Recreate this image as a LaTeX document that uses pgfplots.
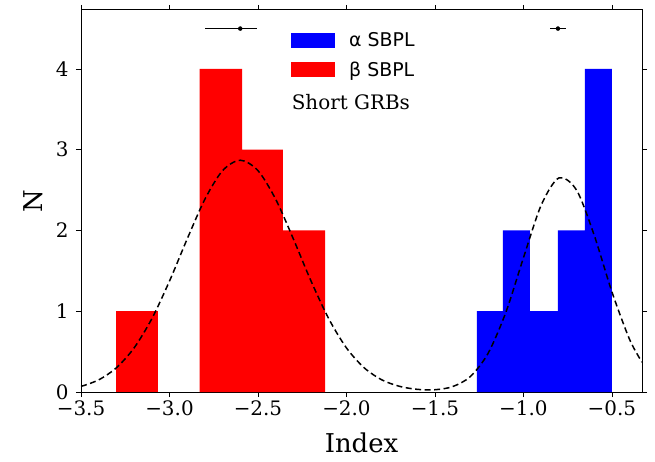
\documentclass[border=0pt]{standalone}
\usepackage{pgfplots}
\pgfplotsset{compat=1.18}
\usepackage{fontspec}
\setmainfont{DejaVu Serif}
\newfontfamily\legfont{DejaVu Sans}
\begin{document}
\begin{tikzpicture}[x=1bp,y=1bp]
\useasboundingbox (-81bp,-70bp) rectangle (574bp,392bp);
\begin{axis}[
  at={(0,0)}, anchor=south west,
  scale only axis, width=561bp, height=382bp,
  xmin=-3.5, xmax=-0.33, ymin=0, ymax=4.73,
  xtick={-3.5,-3,-2.5,-2,-1.5,-1,-0.5},
  xticklabels={−3.5,−3.0,−2.5,−2.0,−1.5,−1.0,−0.5},
  ytick={0,1,2,3,4},
  yticklabels={0,1,2,3,4},
  xticklabel style={font=\fontsize{20}{23}\selectfont},
  yticklabel style={font=\fontsize{20}{23}\selectfont, xshift=-4bp},
  tick align=outside, major tick length=5bp,
  tick style={black, line width=0.8pt},
  axis line style={line width=1pt},
  xlabel={Index}, ylabel={N},
  xlabel style={font=\fontsize{26}{29}\selectfont, yshift=-10bp},
  ylabel style={font=\fontsize{26}{29}\selectfont, yshift=6bp},
  legend style={draw=none, fill=none, at={(axis cs:-2.33,4.50)}, anchor=north west,
    font=\legfont\fontsize{19}{22}\selectfont, row sep=10bp},
  legend image code/.code={\fill[#1] (0bp,-7bp) rectangle (44bp,8bp);},
  legend cell align=left,
]
\addlegendimage{fill=blue, draw=none}
\addlegendentry{\hspace{12bp}α SBPL}
\addlegendimage{fill=red, draw=none}
\addlegendentry{\hspace{12bp}β SBPL}
\node[anchor=west, font=\fontsize{20}{23}\selectfont, inner sep=0pt] at (axis cs:-2.31,3.59) {Short GRBs};
% red bars
\addplot[fill=red, draw=none, forget plot] coordinates {(-3.30,0) (-3.30,1) (-3.065,1) (-3.065,0)} -- cycle;
\addplot[fill=red, draw=none, forget plot] coordinates {(-2.83,0) (-2.83,4) (-2.59,4) (-2.59,3) (-2.36,3) (-2.36,2) (-2.12,2) (-2.12,0)} -- cycle;
% blue bars
\addplot[fill=blue, draw=none, forget plot] coordinates {(-1.263,0) (-1.263,1) (-1.116,1) (-1.116,2) (-0.963,2) (-0.963,1) (-0.805,1) (-0.805,2) (-0.653,2) (-0.653,4) (-0.5,4) (-0.5,0)} -- cycle;
% fit curve
\addplot[black, dash pattern=on 6bp off 3.5bp, line width=1.5pt, smooth, forget plot] coordinates {
(-3.5,0.069) (-3.4,0.150) (-3.3,0.300) (-3.2,0.546) (-3.1,0.907) (-3.0,1.373)
(-2.9,1.895) (-2.8,2.387) (-2.7,2.741) (-2.6,2.870) (-2.5,2.741) (-2.4,2.387)
(-2.3,1.895) (-2.2,1.373) (-2.1,0.907) (-2.0,0.546) (-1.9,0.300) (-1.8,0.150)
(-1.7,0.070) (-1.6,0.033) (-1.5,0.028) (-1.4,0.067) (-1.3,0.191) (-1.2,0.478)
(-1.1,0.983) (-1.0,1.661) (-0.9,2.312) (-0.8,2.650) (-0.7,2.500) (-0.6,1.940)
(-0.5,1.240) (-0.4,0.650) (-0.33,0.370)};
% error bars
\addplot[black, only marks, mark=*, mark size=2pt, forget plot,
  error bars/.cd, x dir=both, x explicit, error mark=none,
  error bar style={line width=1.6pt}] coordinates {
  (-2.60,4.5) -= (0.20,0) += (0.094,0)
  (-0.805,4.5) -= (0.045,0) += (0.045,0)};
\end{axis}
\end{tikzpicture}
\end{document}
